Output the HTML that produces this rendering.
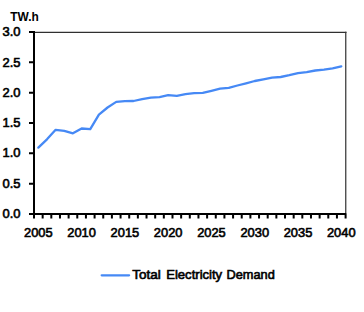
<!DOCTYPE html>
<html><head><meta charset="utf-8"><style>
html,body{margin:0;padding:0;background:#fff;width:364px;height:312px;overflow:hidden}
svg{display:block}
.t{font-family:"Liberation Sans",sans-serif;font-size:13.7px;fill:#000;stroke:#000;stroke-width:0.65px}
.lg{font-family:"Liberation Sans",sans-serif;font-size:13.5px;fill:#000;stroke:#000;stroke-width:0.65px}
.u{font-family:"Liberation Sans",sans-serif;font-weight:bold;font-size:12.3px;fill:#000}
</style></head><body>
<svg width="364" height="312" viewBox="0 0 364 312" xmlns="http://www.w3.org/2000/svg">
<path d="M34 32.4H346.5" fill="none" stroke="#303030" stroke-width="1.3"/>
<path d="M345.75 31.8V214" fill="none" stroke="#383838" stroke-width="1.25"/>
<path d="M34.0 31.0V215.0M29 32.00H34.0M29 62.33H34.0M29 92.67H34.0M29 123.00H34.0M29 153.33H34.0M29 183.67H34.0M29 214.00H34.0" fill="none" stroke="#000" stroke-width="2"/>
<path d="M29 214.0H346.3M34.00 214.0V218.5M42.66 214.0V218.5M51.31 214.0V218.5M59.97 214.0V218.5M68.62 214.0V218.5M77.28 214.0V218.5M85.93 214.0V218.5M94.59 214.0V218.5M103.24 214.0V218.5M111.90 214.0V218.5M120.56 214.0V218.5M129.21 214.0V218.5M137.87 214.0V218.5M146.52 214.0V218.5M155.18 214.0V218.5M163.83 214.0V218.5M172.49 214.0V218.5M181.14 214.0V218.5M189.80 214.0V218.5M198.46 214.0V218.5M207.11 214.0V218.5M215.77 214.0V218.5M224.42 214.0V218.5M233.08 214.0V218.5M241.73 214.0V218.5M250.39 214.0V218.5M259.04 214.0V218.5M267.70 214.0V218.5M276.36 214.0V218.5M285.01 214.0V218.5M293.67 214.0V218.5M302.32 214.0V218.5M310.98 214.0V218.5M319.63 214.0V218.5M328.29 214.0V218.5M336.94 214.0V218.5M345.60 214.0V218.5" fill="none" stroke="#000" stroke-width="2"/>
<polyline points="38.33,147.60 46.98,139.30 55.64,129.80 64.29,130.80 72.95,133.30 81.61,128.50 90.26,129.20 98.92,114.60 107.57,107.50 116.23,101.90 124.88,101.20 133.54,101.00 142.19,99.10 150.85,97.60 159.51,97.10 168.16,95.20 176.82,95.80 185.47,94.20 194.13,93.20 202.78,92.90 211.44,90.80 220.09,88.60 228.75,87.80 237.41,85.50 246.06,83.30 254.72,81.00 263.37,79.30 272.03,77.60 280.68,77.00 289.34,75.20 297.99,73.10 306.65,72.10 315.31,70.50 323.96,69.60 332.62,68.30 341.27,66.30" fill="none" stroke="#4689f5" stroke-width="2.3" stroke-linejoin="round" stroke-linecap="round"/>
<text transform="translate(20.5 36.00) scale(0.945 1)" text-anchor="end" class="t">3.0</text>
<text transform="translate(20.5 67.00) scale(0.945 1)" text-anchor="end" class="t">2.5</text>
<text transform="translate(20.5 97.20) scale(0.945 1)" text-anchor="end" class="t">2.0</text>
<text transform="translate(20.5 127.20) scale(0.945 1)" text-anchor="end" class="t">1.5</text>
<text transform="translate(20.5 157.20) scale(0.945 1)" text-anchor="end" class="t">1.0</text>
<text transform="translate(20.5 188.00) scale(0.945 1)" text-anchor="end" class="t">0.5</text>
<text transform="translate(20.5 218.00) scale(0.945 1)" text-anchor="end" class="t">0.0</text>
<text transform="translate(38.33 236.5) scale(0.94 1)" text-anchor="middle" class="t">2005</text>
<text transform="translate(81.61 236.5) scale(0.94 1)" text-anchor="middle" class="t">2010</text>
<text transform="translate(124.88 236.5) scale(0.94 1)" text-anchor="middle" class="t">2015</text>
<text transform="translate(168.16 236.5) scale(0.94 1)" text-anchor="middle" class="t">2020</text>
<text transform="translate(211.44 236.5) scale(0.94 1)" text-anchor="middle" class="t">2025</text>
<text transform="translate(254.72 236.5) scale(0.94 1)" text-anchor="middle" class="t">2030</text>
<text transform="translate(297.99 236.5) scale(0.94 1)" text-anchor="middle" class="t">2035</text>
<text transform="translate(341.27 236.5) scale(0.94 1)" text-anchor="middle" class="t">2040</text>
<text transform="translate(10.3 21.0) scale(0.97 1)" class="u">TW.h</text>
<path d="M101.7 275.3H129.1" stroke="#4689f5" stroke-width="2.3" stroke-linecap="round"/>
<text transform="translate(132.27 278.7) scale(1.0 1)" class="lg">Total</text>
<text transform="translate(166.20 278.7) scale(0.97 1)" class="lg">Electricity</text>
<text transform="translate(226.52 278.7) scale(0.946 1)" class="lg">Demand</text>
</svg>
</body></html>
